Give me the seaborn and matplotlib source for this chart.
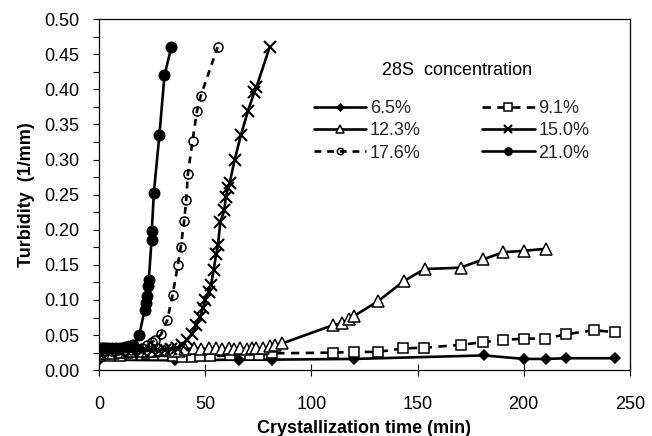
import numpy as np
import pandas as pd
import matplotlib
matplotlib.use("Agg")
import matplotlib.pyplot as plt
from matplotlib.ticker import MultipleLocator, FormatStrFormatter
import seaborn as sns

# Turbidity (1/mm) versus crystallization time (min) for each 28S concentration
t_65 = [0, 35.8, 65.7, 81.5, 120, 181.3, 200.2, 210.4, 220.1, 243]
y_65 = [0.015, 0.014, 0.015, 0.015, 0.016, 0.021, 0.016, 0.016, 0.017, 0.017]

t_91 = [0, 5, 10, 15, 20, 22.5, 26, 30, 35, 39, 43.7, 47.6, 52.4, 61.8, 71.2,
        75.5, 81.5, 110, 120, 131.3, 143.2, 153, 170.3, 181, 190.2, 200.2,
        210.1, 219.8, 233.2, 243.1]
y_91 = [0.020, 0.020, 0.020, 0.021, 0.022, 0.023, 0.022, 0.021, 0.020, 0.019,
        0.019, 0.020, 0.020, 0.021, 0.021, 0.022, 0.024, 0.025, 0.026, 0.026,
        0.031, 0.032, 0.036, 0.040, 0.043, 0.045, 0.045, 0.051, 0.057, 0.054]

t_123 = [0, 3, 6.5, 10, 13, 16, 19.5, 23, 26, 29, 32, 35, 37.5, 40.6, 44.5, 48,
         52, 55, 57.8, 61.4, 63.4, 66.5, 69.7, 72, 74, 77.2, 80.3, 83, 86.2,
         110, 114.5, 117.5, 120, 131.3, 143.6, 153.3, 170.3, 181, 190.4, 200.2,
         210.4]
y_123 = [0.024, 0.025, 0.025, 0.026, 0.026, 0.027, 0.027, 0.028, 0.028, 0.029,
         0.029, 0.028, 0.028, 0.030, 0.031, 0.030, 0.031, 0.031, 0.030, 0.031,
         0.030, 0.031, 0.030, 0.031, 0.032, 0.031, 0.034, 0.036, 0.038, 0.064,
         0.067, 0.073, 0.077, 0.098, 0.127, 0.144, 0.146, 0.158, 0.168, 0.170,
         0.173]

t_150 = [0, 5, 10, 15, 20, 25, 28, 31, 34, 36.6, 39, 41.4, 43.7, 45.8, 47.6,
         48.9, 50, 51.6, 52.7, 53.9, 55.2, 56, 57.1, 59, 59.7, 60.7, 61.5, 63.8,
         66.8, 70.1, 73.1, 74.1, 80.3]
y_150 = [0.025, 0.026, 0.026, 0.027, 0.027, 0.028, 0.028, 0.029, 0.030, 0.031,
         0.036, 0.043, 0.052, 0.064, 0.076, 0.088, 0.100, 0.112, 0.121, 0.142,
         0.166, 0.178, 0.211, 0.228, 0.247, 0.259, 0.267, 0.299, 0.335, 0.369,
         0.396, 0.403, 0.460]

t_176 = [0, 3, 6, 9, 12, 15, 18, 20, 22.5, 25, 26.4, 29.2, 32.1, 34.6, 37.1,
         38.5, 40.1, 41.0, 41.8, 44.0, 46.1, 47.8, 55.8]
y_176 = [0.028, 0.028, 0.028, 0.029, 0.029, 0.029, 0.030, 0.032, 0.036, 0.040,
         0.043, 0.051, 0.071, 0.107, 0.150, 0.176, 0.213, 0.242, 0.279, 0.327,
         0.369, 0.390, 0.460]

t_210 = [0, 1, 2, 3, 4, 6, 8, 10, 12, 14, 16, 18.9, 21.4, 22.2, 22.5, 23.1,
         23.4, 24.7, 24.8, 25.8, 28.4, 30.8, 34.0]
y_210 = [0.030, 0.031, 0.031, 0.031, 0.031, 0.031, 0.032, 0.032, 0.033, 0.034,
         0.036, 0.050, 0.085, 0.095, 0.106, 0.120, 0.128, 0.185, 0.198, 0.253,
         0.335, 0.420, 0.460]

labels = ["6.5%", "9.1%", "12.3%", "15.0%", "17.6%", "21.0%"]
times = [t_65, t_91, t_123, t_150, t_176, t_210]
turbs = [y_65, y_91, y_123, y_150, y_176, y_210]

sns.set_theme(style="white")
plt.rcParams["font.family"] = ["Liberation Sans", "DejaVu Sans"]

fig = plt.figure(figsize=(6.52, 4.36), dpi=100)
ax = fig.add_axes([0.152, 0.151, 0.814, 0.805])

dash_long = (0, (3.2, 2.4))
dash_short = (0, (2.6, 2.2))
styles = {
    "6.5%":  dict(marker="D", markersize=5, markerfacecolor="black", linestyle="-"),
    "9.1%":  dict(marker="s", markersize=7.5, markerfacecolor="white", linestyle=dash_long),
    "12.3%": dict(marker="^", markersize=8, markerfacecolor="white", linestyle="-"),
    "15.0%": dict(marker="x", markersize=8, mew=1.5, linestyle="-"),
    "17.6%": dict(marker="o", markersize=6.5, markerfacecolor="none", linestyle=dash_short),
    "21.0%": dict(marker="o", markersize=7.5, markerfacecolor="black", linestyle="-"),
}

handles = {}
for lab, t, y in zip(labels, times, turbs):
    df = pd.DataFrame({"time": t, "turbidity": y})
    st = dict(styles[lab])
    mew = st.pop("mew", 1.1)
    sns.lineplot(data=df, x="time", y="turbidity", ax=ax, color="black",
                 estimator=None, sort=False, linewidth=1.9,
                 markeredgecolor="black", markeredgewidth=mew, **st)
    handles[lab] = ax.lines[-1]

ax.set_xlim(0, 250)
ax.set_ylim(0, 0.5)
ax.xaxis.set_major_locator(MultipleLocator(50))
ax.yaxis.set_major_locator(MultipleLocator(0.05))
ax.yaxis.set_minor_locator(MultipleLocator(0.025))
ax.yaxis.set_major_formatter(FormatStrFormatter("%.2f"))

for s in ax.spines.values():
    s.set_color("black")
    s.set_linewidth(0.9)

ax.tick_params(axis="y", which="both", direction="out", length=4, width=0.8,
               color="black", pad=10, labelsize=13, labelcolor="black", left=True)
ax.tick_params(axis="x", which="major", direction="inout", length=9, width=0.8,
               color="black", pad=14, labelsize=13, labelcolor="black", bottom=True)

ax.set_xlabel("Crystallization time (min)", fontsize=13, fontweight="bold",
              color="black", labelpad=5)
ax.set_ylabel("Turbidity  (1/mm)", fontsize=13, fontweight="bold",
              color="black", labelpad=7)

ax.text(0.674, 0.855, "28S  concentration", transform=ax.transAxes,
        ha="center", va="center", fontsize=13, color="black")

order = ["6.5%", "12.3%", "17.6%", "9.1%", "15.0%", "21.0%"]
ax.legend([handles[k] for k in order], order, ncol=2, frameon=False,
          loc="upper left", bbox_to_anchor=(0.405, 0.77), fontsize=13,
          handlelength=2.9, handletextpad=0.2, columnspacing=3.4,
          labelspacing=0.3, borderpad=0, borderaxespad=0, markerscale=0.7)

fig.savefig("out.png", dpi=100, facecolor="white")
